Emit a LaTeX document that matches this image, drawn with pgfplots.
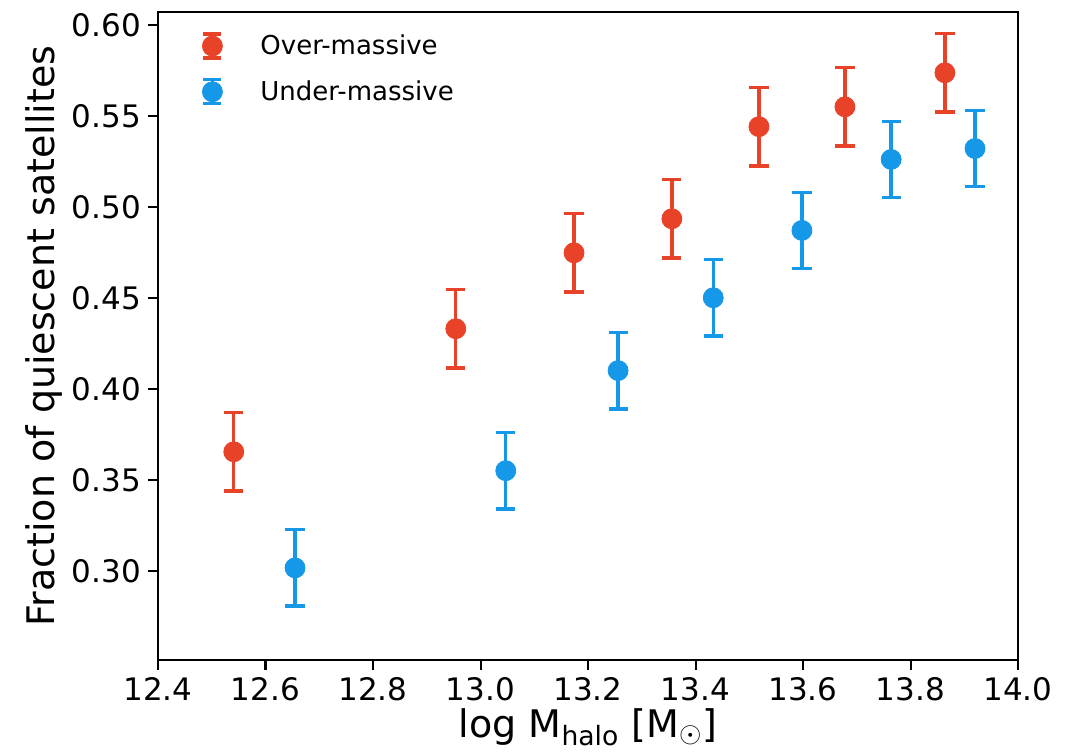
\documentclass[border=0pt]{standalone}
\usepackage{fontspec}
\setmainfont{DejaVu Sans}
\usepackage{pgfplots}
\pgfplotsset{compat=1.18}
\usetikzlibrary{calc}
\definecolor{cred}{RGB}{232,66,40}
\definecolor{cblue}{RGB}{22,152,232}
\pgfplotsset{
 errleg/.style={legend image code/.code={
   \path[draw=none,fill=none] (0pt,0pt) -- (0.3cm+22pt,0pt);
   \draw[line width=1.6pt] (0.3cm,-6pt) -- (0.3cm,6pt);
   \draw[line width=1.6pt] (0.3cm-4.5pt,-6pt) -- (0.3cm+4.5pt,-6pt);
   \draw[line width=1.6pt] (0.3cm-4.5pt,6pt) -- (0.3cm+4.5pt,6pt);
   \fill (0.3cm,0pt) circle (5pt);
 }}}
\begin{document}
\begin{tikzpicture}
\begin{axis}[
  name=ax,
  scale only axis,
  width=430pt, height=324pt,
  xmin=12.4, xmax=14.0, ymin=0.251, ymax=0.607,
  xtick={12.4,12.6,...,14.0},
  ytick={0.30,0.35,...,0.60},
  xticklabel style={/pgf/number format/.cd,fixed,fixed zerofill,precision=1},
  yticklabel style={/pgf/number format/.cd,fixed,fixed zerofill,precision=2},
  /pgf/number format/assume math mode=true,
  tick label style={font=\fontsize{15.5}{19}\selectfont},
  label style={font=\fontsize{19}{22}\selectfont},
  tick align=outside, tick pos=left,
  major tick length=5pt,
  every tick/.style={black, line width=1pt},
  axis line style={line width=1.2pt},
  xlabel={log M\textsubscript{halo} [M\textsubscript{$\odot$}]},
  ylabel={Fraction of quiescent satellites},
  xlabel style={yshift=3pt},
  ylabel style={yshift=-2pt},
  legend style={at={(rel axis cs:0.036,0.978)}, anchor=north west, draw=none, fill=none,
    font=\fontsize{13}{16}\selectfont, row sep=7.5pt, cells={anchor=west}},
  legend cell align=left,
]
\addplot[cred, only marks, mark=*, mark size=5pt, errleg,
  error bars/.cd, y dir=both, y explicit,
  error bar style={line width=1.7pt, cred},
  error mark options={rotate=90, mark size=4.8pt, line width=1.7pt, cred}]
  coordinates {
  (12.541,0.3654) +- (0,0.0215)
  (12.954,0.4330) +- (0,0.0215)
  (13.174,0.4747) +- (0,0.0215)
  (13.356,0.4934) +- (0,0.0215)
  (13.518,0.5440) +- (0,0.0215)
  (13.678,0.5549) +- (0,0.0215)
  (13.864,0.5736) +- (0,0.0215)
  };
\addlegendentry{Over-massive}
\addplot[cblue, only marks, mark=*, mark size=5pt, errleg,
  error bars/.cd, y dir=both, y explicit,
  error bar style={line width=1.7pt, cblue},
  error mark options={rotate=90, mark size=4.8pt, line width=1.7pt, cblue}]
  coordinates {
  (12.655,0.3016) +- (0,0.021)
  (13.047,0.3550) +- (0,0.021)
  (13.256,0.4100) +- (0,0.021)
  (13.433,0.4500) +- (0,0.021)
  (13.598,0.4870) +- (0,0.021)
  (13.764,0.5260) +- (0,0.021)
  (13.920,0.5320) +- (0,0.021)
  };
\addlegendentry{Under-massive}
\end{axis}
\pgfresetboundingbox
\path ($(ax.south west)+(-79pt,-47.5pt)$) rectangle ($(ax.north east)+(31.5pt,6pt)$);
\end{tikzpicture}
\end{document}
